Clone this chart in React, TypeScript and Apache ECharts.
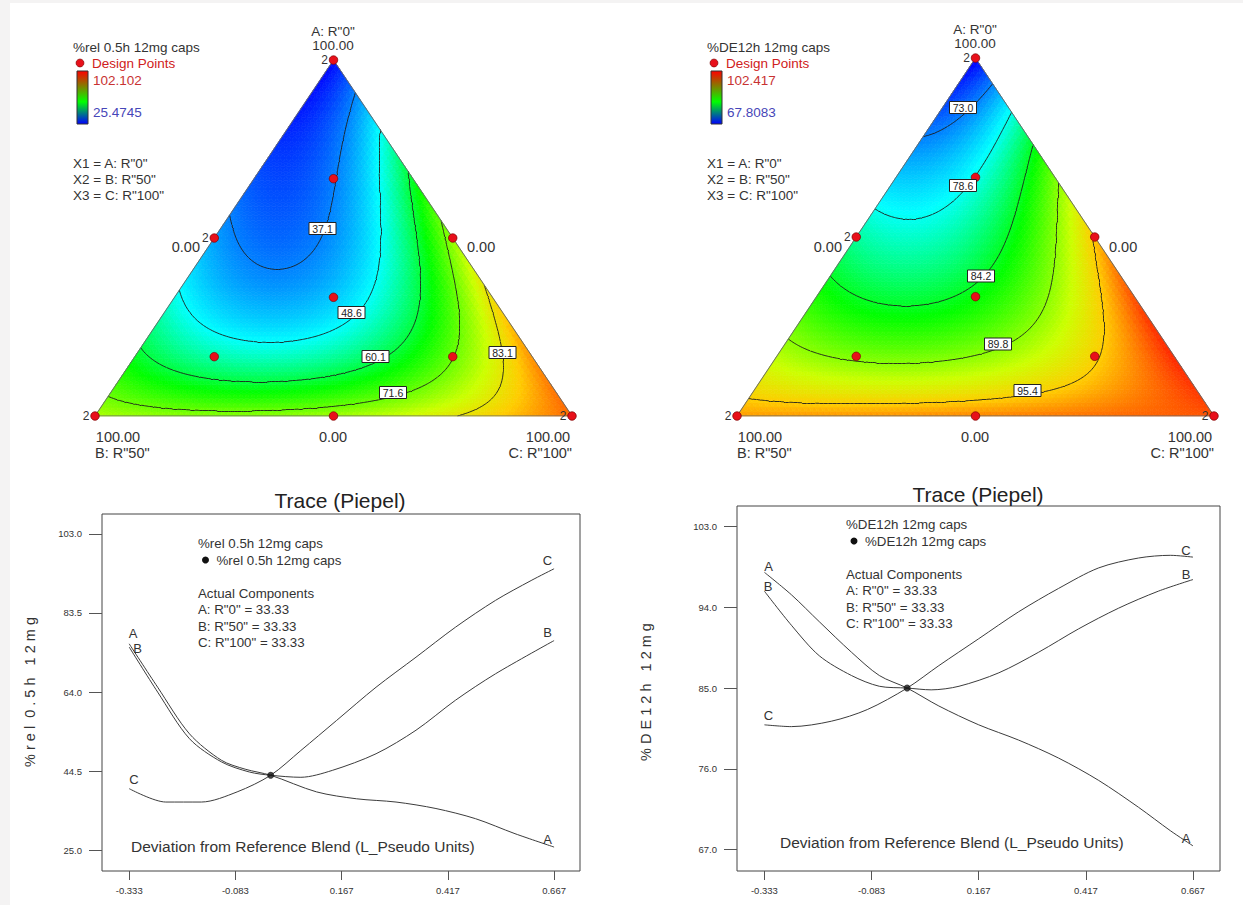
import React, { useEffect, useRef } from "react";
import * as echarts from "echarts";

const FONT = '"Liberation Sans", Arial, Helvetica, sans-serif';

// ---- mixture design (fractions of A, B, C) ----
const designA = [1, 0, 0, 0.5, 0.5, 0, 1 / 3, 2 / 3, 1 / 6, 1 / 6];
const designB = [0, 1, 0, 0.5, 0, 0.5, 1 / 3, 1 / 6, 2 / 3, 1 / 6];
const designC = [0, 0, 1, 0, 0.5, 0.5, 1 / 3, 1 / 6, 1 / 6, 2 / 3];
const designReplicates = [2, 2, 2, 2, 1, 1, 1, 1, 1, 1];

// ---- special-cubic Scheffe coefficients: [A, B, C, AB, AC, BC, ABC] ----
const relCoefficients = [25.8, 76.7, 94.4, -44.2, 60.0, -38.6, -529];
const deCoefficients = [67.4, 97.1, 99.6, -5.4, 49.2, -1.8, -208];

const relContourLevels = [37.1, 48.6, 60.1, 71.6, 83.1];
const deContourLevels = [73.0, 78.6, 84.2, 89.8, 95.4];
const relColorRange = [25.4745, 102.102];
const deColorRange = [67.8083, 102.417];
const surfaceColors = [
  "#0000ff", "#0055ff", "#00aaff", "#00ffff", "#00ff80", "#00ff00",
  "#66ff00", "#ccff00", "#ffcc00", "#ff6600", "#ff0000",
];

// ---- trace (Piepel) plots ----
const traceTicks = [-0.333, -0.083, 0.167, 0.417, 0.667];
const relYTicks = [25.0, 44.5, 64.0, 83.5, 103.0];
const deYTicks = [67.0, 76.0, 85.0, 94.0, 103.0];

const relTraceA = [
  [-0.333, 75.9], [-0.266, 65.2], [-0.191, 53.7], [-0.116, 47.2], [-0.06, 45.0], [0, 43.5],
  [0.108, 39.4], [0.202, 37.7], [0.295, 36.9], [0.389, 35.3], [0.482, 32.8], [0.575, 29.1], [0.667, 25.8],
];
const relTraceB = [
  [-0.333, 75.1], [-0.266, 64.0], [-0.191, 52.5], [-0.116, 46.8], [-0.05, 44.3], [0, 43.5],
  [0.071, 43.0], [0.145, 44.7], [0.248, 48.8], [0.342, 54.6], [0.435, 62.0], [0.529, 68.5], [0.667, 76.7],
];
const relTraceC = [
  [-0.333, 40.2], [-0.247, 36.9], [-0.163, 36.9], [-0.079, 39.4], [0, 43.5], [0.071, 49.6],
  [0.155, 57.0], [0.248, 65.2], [0.342, 72.6], [0.435, 80.0], [0.529, 86.6], [0.613, 91.5], [0.667, 94.4],
];
const relCentroid = [0, 43.5];

const deTraceA = [
  [-0.333, 97.9], [-0.27, 95.4], [-0.205, 92.4], [-0.13, 89.0], [-0.065, 86.4], [0, 85.0], [0.074, 83.0],
  [0.167, 80.9], [0.26, 79.2], [0.353, 77.2], [0.447, 74.7], [0.54, 71.7], [0.614, 69.1], [0.667, 67.4],
];
const deTraceB = [
  [-0.333, 95.8], [-0.27, 92.0], [-0.205, 88.6], [-0.13, 86.4], [-0.065, 85.2], [0, 85.0], [0.056, 84.8],
  [0.121, 85.2], [0.214, 86.7], [0.307, 89.0], [0.4, 91.6], [0.493, 93.9], [0.586, 95.8], [0.667, 97.1],
];
const deTraceC = [
  [-0.333, 80.9], [-0.27, 80.7], [-0.177, 81.3], [-0.093, 82.6], [0, 85.0], [0.074, 87.5], [0.167, 90.5],
  [0.26, 93.5], [0.353, 96.1], [0.447, 98.4], [0.54, 99.5], [0.614, 99.8], [0.667, 99.6],
];
const deCentroid = [0, 85.0];

const MESH_N = 80;
const CONTOUR_N = 110;

function evalModel(c: number[], a: number, b: number, cc: number) {
  return c[0] * a + c[1] * b + c[2] * cc + c[3] * a * b + c[4] * a * cc + c[5] * b * cc + c[6] * a * b * cc;
}

function buildSurface(coef: number[], range: number[], N: number) {
  const data: number[][] = [];
  const clamp = (v: number) => Math.min(range[1], Math.max(range[0], v));
  for (let i = 0; i < N; i++) {
    for (let k = 0; k < N - i; k++) {
      let a = (3 * i + 1) / (3 * N);
      let c = (3 * k + 1) / (3 * N);
      data.push([c + a / 2, a, i, k, 0, clamp(evalModel(coef, a, 1 - a - c, c))]);
      if (i + k <= N - 2) {
        a = (3 * i + 2) / (3 * N);
        c = (3 * k + 2) / (3 * N);
        data.push([c + a / 2, a, i, k, 1, clamp(evalModel(coef, a, 1 - a - c, c))]);
      }
    }
  }
  return data;
}

function buildContours(coef: number[], levels: number[], N: number) {
  const val = (i: number, k: number) => evalModel(coef, i / N, Math.max(0, 1 - i / N - k / N), k / N);
  const pos = (i: number, k: number) => [k / N + i / (2 * N), i / N];
  const segs: any[] = [];
  const tri = (p: number[][]) => {
    const v = p.map(([i, k]) => val(i, k));
    const xy = p.map(([i, k]) => pos(i, k));
    for (const L of levels) {
      const pts: number[][] = [];
      for (let e = 0; e < 3; e++) {
        const s = e;
        const t = (e + 1) % 3;
        const vs = v[s] - L;
        const vt = v[t] - L;
        if (vs < 0 !== vt < 0) {
          const f = vs / (vs - vt);
          pts.push([xy[s][0] + f * (xy[t][0] - xy[s][0]), xy[s][1] + f * (xy[t][1] - xy[s][1])]);
        }
      }
      if (pts.length === 2) segs.push({ coords: pts });
    }
  };
  for (let i = 0; i < N; i++) {
    for (let k = 0; k < N - i; k++) {
      tri([[i, k], [i, k + 1], [i + 1, k]]);
      if (i + k <= N - 2) tri([[i, k + 1], [i + 1, k + 1], [i + 1, k]]);
    }
  }
  return segs;
}

const renderTri = (N: number) => (params: any, api: any) => {
  const i = api.value(2);
  const k = api.value(3);
  const d = api.value(4);
  const pts = d === 0 ? [[i, k], [i, k + 1], [i + 1, k]] : [[i, k + 1], [i + 1, k + 1], [i + 1, k]];
  const points = pts.map(([ii, kk]) => {
    const a = ii / N;
    const c = kk / N;
    return api.coord([c + a / 2, a]);
  });
  const color = api.visual("color");
  return { type: "polygon", shape: { points }, style: { fill: color, stroke: color, lineWidth: 0.7 } };
};

function T(x: number, y: number, text: string, o: any = {}) {
  const size = o.size ?? 13;
  return {
    type: "text",
    x,
    y,
    z: 100,
    rotation: o.rotation ?? 0,
    style: {
      text,
      font: `${size}px ${FONT}`,
      fontSize: size,
      fontFamily: FONT,
      fill: o.color ?? "#333",
      textAlign: o.align ?? "left",
      align: o.align ?? "left",
      textVerticalAlign: "middle",
      verticalAlign: "middle",
    },
  };
}

function contourBox(x: number, y: number, label: string) {
  return {
    type: "group",
    x,
    y,
    z: 100,
    children: [
      { type: "rect", z: 100, shape: { x: -13.5, y: -6, width: 27, height: 12 }, style: { fill: "#fff", stroke: "#222", lineWidth: 1 } },
      {
        type: "text",
        z: 101,
        style: {
          text: label, x: 0, y: 0, font: `10.5px ${FONT}`, fontSize: 10.5, fontFamily: FONT,
          fill: "#222", textAlign: "center", align: "center", textVerticalAlign: "middle", verticalAlign: "middle",
        },
      },
    ],
  };
}

function legendBlock(dx: number, title: string, range: number[]) {
  return [
    T(73 + dx, 47, title, { size: 13.5 }),
    { type: "circle", z: 100, shape: { cx: 80 + dx, cy: 63, r: 4 }, style: { fill: "#e8101a", stroke: "#700", lineWidth: 0.6 } },
    T(92 + dx, 63, "Design Points", { size: 13.5, color: "#d02020" }),
    {
      type: "rect", z: 100, shape: { x: 77 + dx, y: 71, width: 11, height: 53 },
      style: {
        stroke: "#333", lineWidth: 1,
        fill: new echarts.graphic.LinearGradient(0, 0, 0, 1, [
          { offset: 0, color: "#ff0000" }, { offset: 0.58, color: "#00ff00" }, { offset: 1, color: "#0000ff" },
        ]),
      },
    },
    T(93 + dx, 80, String(range[1]), { size: 13.5, color: "#c83232" }),
    T(93 + dx, 112, String(range[0]), { size: 13.5, color: "#4646b8" }),
    T(73 + dx, 163, 'X1 = A: R"0"', { size: 13.5 }),
    T(73 + dx, 179, 'X2 = B: R"50"', { size: 13.5 }),
    T(73 + dx, 195, 'X3 = C: R"100"', { size: 13.5 }),
  ];
}

function ternaryLabels(dx: number, topY: number) {
  const s = 14.5;
  return [
    T(333 + dx, topY - 29, 'A: R"0"', { size: 13.5, align: "center" }),
    T(333 + dx, topY - 15, "100.00", { size: 13.5, align: "center" }),
    T(200 + dx, 247, "0.00", { size: s, align: "right" }),
    T(467 + dx, 247, "0.00", { size: s }),
    T(118 + dx, 437, "100.00", { size: s, align: "center" }),
    T(333 + dx, 437, "0.00", { size: s, align: "center" }),
    T(548 + dx, 437, "100.00", { size: s, align: "center" }),
    T(95 + dx, 453, 'B: R"50"', { size: s }),
    T(572 + dx, 453, 'C: R"100"', { size: s, align: "right" }),
  ];
}

function traceTexts(o: any) {
  const s = 13.3;
  return [
    T(o.titleX, o.titleY, "Trace (Piepel)", { size: 21, align: "center", color: "#222" }),
    T(o.yNameX, 692, o.yName, { size: 14.5, align: "center", rotation: Math.PI / 2 }),
    T(o.tx, o.ty, o.resp, { size: s }),
    { type: "circle", z: 100, shape: { cx: o.dotX, cy: o.ty + 17, r: 3.5 }, style: { fill: "#111" } },
    T(o.dotX + 11, o.ty + 17, o.resp, { size: s }),
    T(o.tx, o.ty + 50, "Actual Components", { size: s }),
    T(o.tx, o.ty + 66, 'A: R"0" = 33.33', { size: s }),
    T(o.tx, o.ty + 83, 'B: R"50" = 33.33', { size: s }),
    T(o.tx, o.ty + 99, 'C: R"100" = 33.33', { size: s }),
    T(o.devX, o.devY, "Deviation from Reference Blend (L_Pseudo Units)", { size: 15.5 }),
    ...o.curveLabels.map((l: any) => T(l[0], l[1], l[2], { size: 13, align: "center" })),
  ];
}

function ternarySeries(idx: number, coef: number[], range: number[], levels: number[]) {
  const pts = designA.map((a, j) => ({
    value: [designC[j] + a / 2, a],
    label: {
      show: designReplicates[j] > 1, formatter: String(designReplicates[j]), position: "left",
      distance: 1, fontSize: 12, color: "#333", fontFamily: FONT,
    },
  }));
  return [
    {
      type: "custom", xAxisIndex: idx, yAxisIndex: idx, z: 1, silent: true,
      renderItem: renderTri(MESH_N), data: buildSurface(coef, range, MESH_N),
    },
    {
      type: "lines", coordinateSystem: "cartesian2d", xAxisIndex: idx, yAxisIndex: idx, z: 3, silent: true,
      lineStyle: { color: "#1e1e1e", width: 0.9, opacity: 1 }, data: buildContours(coef, levels, CONTOUR_N),
    },
    {
      type: "line", xAxisIndex: idx, yAxisIndex: idx, z: 4, silent: true, symbol: "none",
      lineStyle: { color: "#6a6a6a", width: 1 }, data: [[0, 0], [0.5, 1], [1, 0], [0, 0]],
    },
    {
      type: "scatter", xAxisIndex: idx, yAxisIndex: idx, z: 5, clip: false, silent: true,
      symbolSize: 8.5, itemStyle: { color: "#e8101a", borderColor: "#7a0000", borderWidth: 0.7, opacity: 1 },
      data: pts,
    },
  ];
}

function traceSeries(idx: number, curves: number[][][], centroid: number[]) {
  return [
    ...curves.map((d) => ({
      type: "line", xAxisIndex: idx, yAxisIndex: idx, z: 3, silent: true, symbol: "none",
      smooth: 0.3, clip: false, lineStyle: { color: "#3c3c3c", width: 1 }, data: d,
    })),
    {
      type: "scatter", xAxisIndex: idx, yAxisIndex: idx, z: 5, silent: true, symbolSize: 7,
      itemStyle: { color: "#111" }, data: [centroid],
    },
  ];
}

function traceAxes(idx: number, xr: number[], yr: number[], yTicks: number[]) {
  const tickStyle = { color: "#555", width: 1 };
  const labelStyle = { fontSize: 9.5, color: "#333", fontFamily: FONT };
  return {
    x: {
      gridIndex: idx, type: "value", min: xr[0], max: xr[1],
      axisLine: { show: false, onZero: false }, splitLine: { show: false },
      axisTick: { show: true, customValues: traceTicks, length: 9, lineStyle: tickStyle },
      axisLabel: { customValues: traceTicks, formatter: (v: number) => v.toFixed(3), margin: 14, ...labelStyle },
    },
    y: {
      gridIndex: idx, type: "value", min: yr[0], max: yr[1],
      axisLine: { show: false, onZero: false }, splitLine: { show: false },
      axisTick: { show: true, customValues: yTicks, length: 13, lineStyle: tickStyle },
      axisLabel: { customValues: yTicks, formatter: (v: number) => v.toFixed(1), margin: 20, ...labelStyle },
    },
  };
}

function buildOption() {
  const hiddenX = (g: number) => ({ gridIndex: g, type: "value", min: 0, max: 1, show: false });
  const ax2 = traceAxes(2, [-0.397, 0.728], [19.9, 107.9], relYTicks);
  const ax3 = traceAxes(3, [-0.397, 0.73], [64.6, 105.3], deYTicks);

  const graphics: any[] = [
    { type: "rect", z: -100, shape: { x: 10, y: 3, width: 1233, height: 902 }, style: { fill: "#ffffff" } },
    ...legendBlock(0, "%rel 0.5h 12mg caps", relColorRange),
    ...legendBlock(634, "%DE12h 12mg caps", deColorRange),
    ...ternaryLabels(0, 60),
    ...ternaryLabels(642, 58),
    contourBox(322.5, 228.5, relContourLevels[0].toFixed(1)),
    contourBox(351.5, 312.5, relContourLevels[1].toFixed(1)),
    contourBox(375.5, 356.5, relContourLevels[2].toFixed(1)),
    contourBox(393, 392.5, relContourLevels[3].toFixed(1)),
    contourBox(502.5, 352.5, relContourLevels[4].toFixed(1)),
    contourBox(963, 107.5, deContourLevels[0].toFixed(1)),
    contourBox(963, 185.5, deContourLevels[1].toFixed(1)),
    contourBox(981, 276, deContourLevels[2].toFixed(1)),
    contourBox(998, 344, deContourLevels[3].toFixed(1)),
    contourBox(1027.5, 390.5, deContourLevels[4].toFixed(1)),
    ...traceTexts({
      titleX: 340, titleY: 500, yNameX: 30, yName: "% r e l  0 . 5 h   1 2 m g",
      tx: 198, ty: 543, dotX: 205.5, resp: "%rel 0.5h 12mg caps", devX: 131, devY: 846,
      curveLabels: [[133, 633, "A"], [137.5, 648, "B"], [134, 779, "C"], [547.5, 560, "C"], [547.5, 632, "B"], [547.5, 839, "A"]],
    }),
    ...traceTexts({
      titleX: 978, titleY: 494, yNameX: 646, yName: "% D E 1 2 h   1 2 m g",
      tx: 846, ty: 524, dotX: 854, resp: "%DE12h 12mg caps", devX: 780, devY: 842,
      curveLabels: [[768.5, 566, "A"], [768, 586, "B"], [768.5, 715, "C"], [1186, 550, "C"], [1186, 574, "B"], [1186, 838, "A"]],
    }),
  ];

  return {
    animation: false,
    backgroundColor: "#f4f3f3",
    textStyle: { fontFamily: FONT },
    grid: [
      { left: 95, top: 60, width: 477, height: 356, show: false },
      { left: 737, top: 58, width: 477, height: 358, show: false },
      { left: 102, top: 514, width: 478, height: 357, show: true, borderColor: "#444", borderWidth: 1, backgroundColor: "transparent" },
      { left: 737, top: 506, width: 483, height: 365, show: true, borderColor: "#444", borderWidth: 1, backgroundColor: "transparent" },
    ],
    xAxis: [hiddenX(0), hiddenX(1), ax2.x, ax3.x],
    yAxis: [hiddenX(0), hiddenX(1), ax2.y, ax3.y],
    visualMap: [
      { type: "continuous", show: false, seriesIndex: 0, dimension: 5, min: relColorRange[0], max: relColorRange[1], inRange: { color: surfaceColors } },
      { type: "continuous", show: false, seriesIndex: 4, dimension: 5, min: deColorRange[0], max: deColorRange[1], inRange: { color: surfaceColors } },
    ],
    series: [
      ...ternarySeries(0, relCoefficients, relColorRange, relContourLevels),
      ...ternarySeries(1, deCoefficients, deColorRange, deContourLevels),
      ...traceSeries(2, [relTraceA, relTraceB, relTraceC], relCentroid),
      ...traceSeries(3, [deTraceA, deTraceB, deTraceC], deCentroid),
    ],
    graphic: { elements: graphics },
  };
}

export default function App() {
  const ref = useRef<HTMLDivElement>(null);
  useEffect(() => {
    if (!ref.current) return;
    const chart = echarts.init(ref.current, null, { renderer: "svg" });
    chart.setOption(buildOption() as any);
    return () => chart.dispose();
  }, []);
  return <div ref={ref} style={{ position: "absolute", left: 0, top: 0, width: 1243, height: 905 }} />;
}
